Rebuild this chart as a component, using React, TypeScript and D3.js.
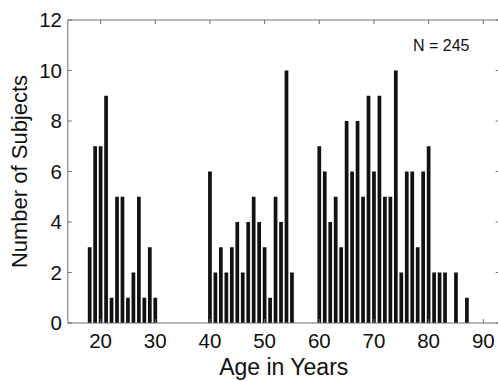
import * as d3 from "d3";

const ages = [
  18, 19, 20, 21, 22, 23, 24, 25, 26, 27, 28, 29, 30,
  40, 41, 42, 43, 44, 45, 46, 47, 48, 49, 50, 51, 52, 53, 54, 55,
  60, 61, 62, 63, 64, 65, 66, 67, 68, 69, 70, 71, 72, 73, 74,
  75, 76, 77, 78, 79, 80, 81, 82, 83, 85, 87,
];
const counts = [
  3, 7, 7, 9, 1, 5, 5, 1, 2, 5, 1, 3, 1,
  6, 2, 3, 2, 3, 4, 2, 4, 5, 4, 3, 1, 5, 4, 10, 2,
  7, 6, 4, 5, 3, 8, 6, 8, 5, 9, 6, 9, 5, 5, 10,
  2, 6, 6, 3, 6, 7, 2, 2, 2, 2, 1,
];
const xTicks = [20, 30, 40, 50, 60, 70, 80, 90];
const yTicks = [0, 2, 4, 6, 8, 10, 12];

const width = 498;
const height = 381;
const left = 67.8;
const right = 499.7;
const top = 20;
const bottom = 323;
const font = "'Liberation Sans', Arial, sans-serif";
const tickLen = 4;
const axisColor = "#6e6e6e";

export default function App() {
  const x = d3.scaleLinear().domain([14, 93]).range([left, right]);
  const y = d3.scaleLinear().domain([0, 12]).range([bottom, top]);
  const barW = (x(1) - x(0)) * 0.68;

  return (
    <svg
      width={width}
      height={height}
      style={{ position: "absolute", left: 0, top: 0, background: "#fff" }}
    >
      {/* bars */}
      {ages.map((a, i) => (
        <rect
          key={a}
          x={x(a) - barW / 2}
          y={y(counts[i])}
          width={barW}
          height={y(0) - y(counts[i])}
          fill="#111"
        />
      ))}

      {/* box */}
      <path
        d={`M${left},${top}H${right}V${bottom}H${left}Z`}
        fill="none"
        stroke={axisColor}
        strokeWidth={1}
      />

      {/* x ticks */}
      {xTicks.map((t) => (
        <g key={t}>
          <line x1={x(t)} x2={x(t)} y1={bottom} y2={bottom - tickLen} stroke={axisColor} />
          <line x1={x(t)} x2={x(t)} y1={top} y2={top + tickLen} stroke={axisColor} />
          <text x={x(t)} y={348} textAnchor="middle" fontSize={20.5} fontFamily={font} fill="#111">
            {t}
          </text>
        </g>
      ))}

      {/* y ticks */}
      {yTicks.map((t) => (
        <g key={t}>
          <line x1={left} x2={left + tickLen} y1={y(t)} y2={y(t)} stroke={axisColor} />
          <line x1={right} x2={right - tickLen} y1={y(t)} y2={y(t)} stroke={axisColor} />
          <text x={62} y={y(t)} dy="0.35em" textAnchor="end" fontSize={20.5} fontFamily={font} fill="#111">
            {t}
          </text>
        </g>
      ))}

      {/* labels */}
      <text x={(left + right) / 2} y={375} textAnchor="middle" fontSize={23} fontFamily={font} fill="#111">
        Age in Years
      </text>
      <text
        transform={`translate(27,${(top + bottom) / 2}) rotate(-90)`}
        textAnchor="middle"
        fontSize={22}
        fontFamily={font}
        fill="#111"
      >
        Number of Subjects
      </text>
      <text x={413} y={50.5} fontSize={16} fontFamily={font} fill="#111">
        N = 245
      </text>
    </svg>
  );
}
